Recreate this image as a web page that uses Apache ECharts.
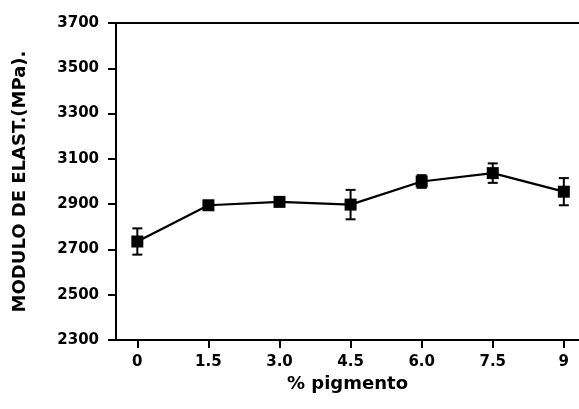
<!DOCTYPE html>
<html><head><meta charset="utf-8">
<script src="https://cdn.jsdelivr.net/npm/echarts@6/dist/echarts.min.js"></script>
<style>html,body{margin:0;padding:0;background:#fff}#c{width:579px;height:409px}</style>
</head><body><div id="c"></div>
<script>
const pigment = [0, 1.5, 3.0, 4.5, 6.0, 7.5, 9];
const xTickLabels = ['0', '1.5', '3.0', '4.5', '6.0', '7.5', '9'];
const modulus = [2735, 2895, 2910, 2898, 3000, 3037, 2955];
const errors = [58, 15, 15, 65, 28, 43, 60];
const yTicks = [2300, 2500, 2700, 2900, 3100, 3300, 3500, 3700];

const font = 'DejaVu Sans';
const chart = echarts.init(document.getElementById('c'), null, {renderer: 'canvas'});
const lineData = pigment.map((x, i) => [x, modulus[i]]);
const errData = pigment.map((x, i) => [x, modulus[i] - errors[i], modulus[i] + errors[i]]);

chart.setOption({
  animation: false,
  backgroundColor: '#fff',
  grid: {left: 116, right: 0, top: 23, bottom: 69},
  xAxis: [{
    type: 'value', min: -0.45, max: 9.32,
    name: '% pigmento', nameLocation: 'middle', nameGap: 35,
    nameTextStyle: {fontFamily: font, fontWeight: 'bold', fontSize: 18, color: '#000'},
    axisLine: {show: true, onZero: false, lineStyle: {color: '#000', width: 2}},
    axisTick: {show: true, length: 8, lineStyle: {color: '#000', width: 2}, customValues: pigment},
    axisLabel: {margin: 15, fontFamily: font, fontWeight: 'bold', fontSize: 15, color: '#000',
      customValues: pigment,
      formatter: v => { const i = pigment.indexOf(v); return i >= 0 ? xTickLabels[i] : ''; }},
    splitLine: {show: false}
  }, {
    type: 'value', position: 'top', min: -0.45, max: 9.32,
    axisLine: {show: true, onZero: false, lineStyle: {color: '#000', width: 2}},
    axisTick: {show: false}, axisLabel: {show: false}, splitLine: {show: false}
  }],
  yAxis: {
    type: 'value', min: 2300, max: 3700,
    name: 'MODULO DE ELAST.(MPa).', nameLocation: 'middle', nameGap: 87, nameRotate: 90,
    nameTextStyle: {fontFamily: font, fontWeight: 'bold', fontSize: 18, color: '#000'},
    axisLine: {show: true, onZero: false, lineStyle: {color: '#000', width: 2}},
    axisTick: {show: true, length: 8, lineStyle: {color: '#000', width: 2}, customValues: yTicks},
    axisLabel: {margin: 17, fontFamily: font, fontWeight: 'bold', fontSize: 15, color: '#000',
      customValues: yTicks, formatter: v => String(v)},
    splitLine: {show: false}
  },
  series: [{
    type: 'custom',
    data: errData,
    z: 1,
    renderItem: function (params, api) {
      const x = api.value(0);
      const lo = api.coord([x, api.value(1)]);
      const hi = api.coord([x, api.value(2)]);
      const w = 5;
      const style = {stroke: '#000', lineWidth: 2};
      return {type: 'group', children: [
        {type: 'line', shape: {x1: lo[0], y1: lo[1], x2: hi[0], y2: hi[1]}, style},
        {type: 'line', shape: {x1: lo[0] - w, y1: lo[1], x2: lo[0] + w, y2: lo[1]}, style},
        {type: 'line', shape: {x1: hi[0] - w, y1: hi[1], x2: hi[0] + w, y2: hi[1]}, style}
      ]};
    }
  }, {
    type: 'line',
    data: lineData,
    z: 2,
    symbol: 'rect', symbolSize: 12,
    lineStyle: {color: '#000', width: 2.2},
    itemStyle: {color: '#000'}
  }]
});
</script></body></html>
